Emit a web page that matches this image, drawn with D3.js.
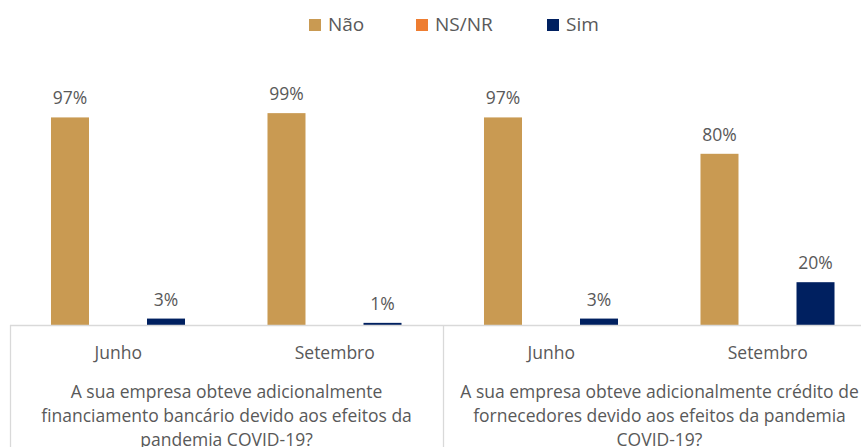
<!DOCTYPE html>
<html>
<head>
<meta charset="utf-8">
<script src="https://cdn.jsdelivr.net/npm/d3@7"></script>
<style>
  body { margin: 0; background: #fff; }
  svg { display: block; font-family: "Open Sans", sans-serif; }
</style>
</head>
<body>
<svg id="chart" width="861" height="447"></svg>
<script>
// data
const series = ["Não", "NS/NR", "Sim"];
const colors = ["#c99a52", "#ee7d31", "#002060"];
const periods = ["Junho", "Setembro"];
const questions = [
  ["A sua empresa obteve adicionalmente", "financiamento bancário devido aos efeitos da", "pandemia COVID-19?"],
  ["A sua empresa obteve adicionalmente crédito de", "fornecedores devido aos efeitos da pandemia", "COVID-19?"]
];
const naoValues = [97, 99, 97, 80];
const nsnrValues = [0, 0, 0, 0];
const simValues = [3, 1, 3, 20];

const svg = d3.select("#chart");
const textColor = "#595959";
const gridColor = "#d9d9d9";

// one slot per (question, period)
const slots = [];
questions.forEach((q, qi) => periods.forEach((p, pi) => slots.push({ q: qi, p: pi, key: qi + "-" + pi })));
const values = [naoValues, nsnrValues, simValues];

const left = 10, right = 876, baseY = 325;
const x0 = d3.scaleBand().domain(slots.map(d => d.key)).range([left, right]);
const x1 = d3.scaleBand().domain(series).range([36, 180]).paddingInner(0.2083).paddingOuter(0.104);
const y = d3.scaleLinear().domain([0, 100]).range([baseY, baseY - 214]);

// bars
const g = svg.append("g");
slots.forEach((s, i) => {
  series.forEach((name, si) => {
    const v = values[si][i];
    if (v <= 0) return;
    const bx = x0(s.key) + x1(name);
    g.append("rect")
      .attr("x", bx).attr("y", y(v))
      .attr("width", x1.bandwidth()).attr("height", y(0) - y(v))
      .attr("fill", colors[si]);
    g.append("text")
      .attr("x", bx + x1.bandwidth() / 2).attr("y", y(v) - 13)
      .attr("text-anchor", "middle").attr("font-size", 17.5)
      .attr("fill", textColor).text(v + "%");
  });
});

// axis lines
const axis = svg.append("g").attr("stroke", gridColor).attr("stroke-width", 1.3);
axis.append("line").attr("x1", left).attr("x2", 861).attr("y1", baseY + 0.5).attr("y2", baseY + 0.5);
const qWidth = x0.bandwidth() * periods.length;
[0, 1, 2].forEach(k => {
  const lx = Math.round(left + k * qWidth) + 0.5;
  axis.append("line").attr("x1", lx).attr("x2", lx).attr("y1", baseY).attr("y2", 447);
});

// period labels
svg.append("g").selectAll("text").data(slots).join("text")
  .attr("x", d => x0(d.key) + x0.bandwidth() / 2).attr("y", 359)
  .attr("text-anchor", "middle").attr("font-size", 17.5).attr("fill", textColor)
  .text(d => periods[d.p]);

// question labels
questions.forEach((lines, qi) => {
  const cx = left + qWidth * qi + qWidth / 2;
  const t = svg.append("text").attr("text-anchor", "middle").attr("font-size", 17.5).attr("fill", textColor);
  lines.forEach((ln, li) => t.append("tspan").attr("x", cx).attr("y", 398 + li * 24).text(ln));
});

// legend
const legendX = [309, 416, 547];
const legend = svg.append("g");
series.forEach((name, i) => {
  legend.append("rect").attr("x", legendX[i]).attr("y", 19).attr("width", 12).attr("height", 12).attr("fill", colors[i]);
  legend.append("text").attr("x", legendX[i] + 19).attr("y", 31).attr("font-size", 19).attr("fill", textColor).text(name);
});
</script>
</body>
</html>
